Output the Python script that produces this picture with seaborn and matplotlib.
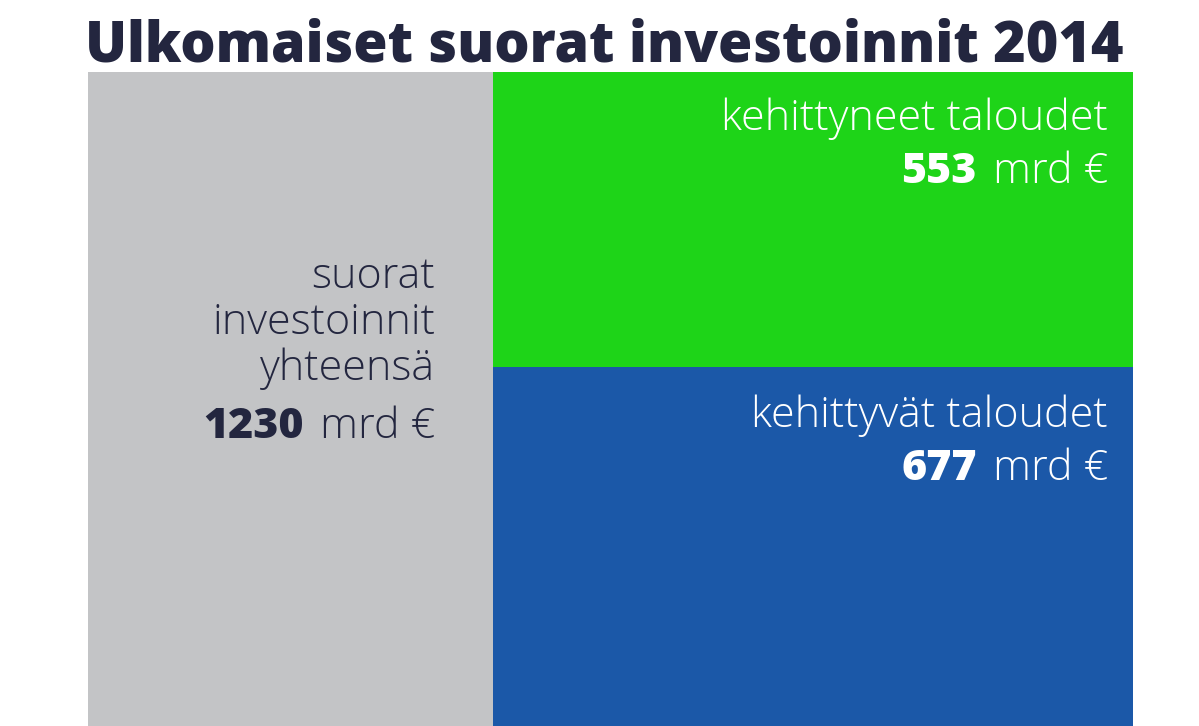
import matplotlib
matplotlib.use("Agg")
import matplotlib.pyplot as plt
import seaborn as sns
import pandas as pd

# ---- data ----
categories = ["suorat investoinnit yhteensä", "kehittyneet taloudet", "kehittyvät taloudet"]
left_label_lines = ["suorat", "investoinnit", "yhteensä"]
values = [1230, 553, 677]
value_labels = ["1230", "553", "677"]
unit = "mrd €"
title = "Ulkomaiset suorat investoinnit 2014"

GRAY = "#c3c4c6"
GREEN = "#1ed418"
BLUE = "#1b58a8"
NAVY = "#23263f"

LFAM = ["Open Sans", "DejaVu Sans"]
TFAM = ["Open Sans", "DejaVu Sans"]

sns.set_theme(style="white")
plt.rcParams["font.family"] = LFAM

W, H = 1199, 726
fig = plt.figure(figsize=(W / 100, H / 100), dpi=100)
fig.patch.set_facecolor("white")

def fx(x):
    return x / W

def fy(y):
    return 1 - y / H

top_px = 72
bar_px_total = 656  # pixels for the total value
ax_h = (H - top_px) / H
ylo = values[0] * (1 - (H - top_px) / bar_px_total)

axL = fig.add_axes([fx(88), 0, (493 - 88) / W, ax_h])
axR = fig.add_axes([fx(493), 0, (1133 - 493) / W, ax_h])

dfL = pd.DataFrame({"cat": ["total"], "val": [values[0]]})
sns.barplot(data=dfL, x="cat", y="val", color=GRAY, width=1.0, ax=axL,
            saturation=1, edgecolor="none", linewidth=0)

total_right = values[1] + values[2]
dfR1 = pd.DataFrame({"cat": ["split"], "val": [total_right]})
sns.barplot(data=dfR1, x="cat", y="val", color=GREEN, width=1.0, ax=axR,
            saturation=1, edgecolor="none", linewidth=0)
dfR2 = pd.DataFrame({"cat": ["split"], "val": [values[2]]})
sns.barplot(data=dfR2, x="cat", y="val", color=BLUE, width=1.0, ax=axR,
            saturation=1, edgecolor="none", linewidth=0)

for ax in (axL, axR):
    ax.set_xlim(-0.5, 0.5)
    ax.set_ylim(ylo, values[0])
    ax.set_axis_off()

# ---- title ----
fig.text(fx(85), fy(62), title, fontsize=40, fontweight=800,
         color=NAVY, ha="left", va="baseline", family=TFAM)

LABEL_FS = 31
LW = 300
fig.canvas.draw()
renderer = fig.canvas.get_renderer()

def value_line(x_right, y_base, number, color):
    t = fig.text(fx(x_right), fy(y_base), unit, fontsize=LABEL_FS, fontweight=LW,
                 color=color, ha="right", va="baseline")
    bb = t.get_window_extent(renderer=renderer)
    fig.text(fx(bb.x0 - 16), fy(y_base), number, fontsize=LABEL_FS, fontweight=800,
             color=color, ha="right", va="baseline")

# left label
for line, yb in zip(left_label_lines, [288, 334, 380]):
    fig.text(fx(435), fy(yb), line, fontsize=LABEL_FS, fontweight=LW,
             color=NAVY, ha="right", va="baseline")
value_line(435, 438, value_labels[0], NAVY)

# right labels
fig.text(fx(1108), fy(130), categories[1], fontsize=LABEL_FS, fontweight=LW,
         color="white", ha="right", va="baseline")
value_line(1108, 183, value_labels[1], "white")
fig.text(fx(1108), fy(427), categories[2], fontsize=LABEL_FS, fontweight=LW,
         color="white", ha="right", va="baseline")
value_line(1108, 480, value_labels[2], "white")

fig.savefig("out.png", dpi=100, facecolor="white")
